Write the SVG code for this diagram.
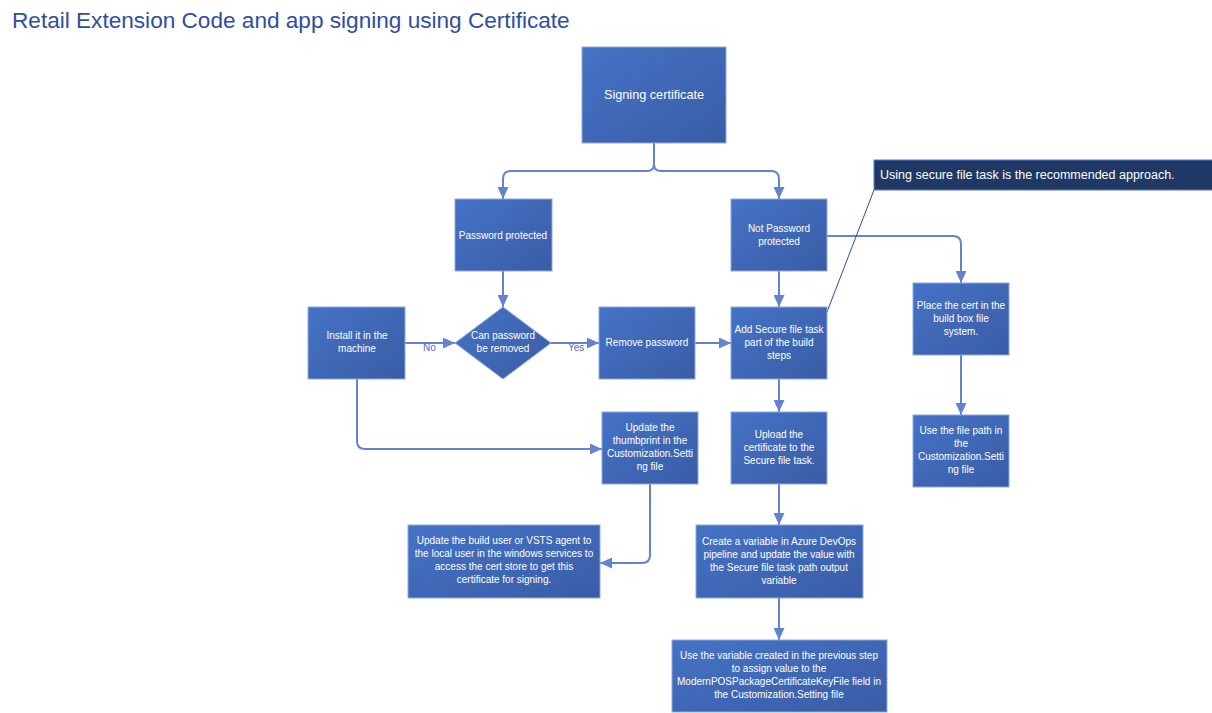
<svg xmlns="http://www.w3.org/2000/svg" width="1212" height="713" viewBox="0 0 1212 713">
<style>
.box{fill:url(#g);stroke:#8eaadb;stroke-width:1}
.t{font-family:"Liberation Sans",Arial,sans-serif;font-size:10px;fill:#ffffff;text-anchor:middle}
.c{fill:none;stroke:#6382d2;stroke-width:2}
.lbl{font-family:"Liberation Sans",Arial,sans-serif;font-size:10px;fill:#4a6fc8}
</style>
<defs>
<linearGradient id="g" x1="0" y1="0" x2="1" y2="1">
<stop offset="0" stop-color="#4573c6"/>
<stop offset="1" stop-color="#3a5ca6"/>
</linearGradient>
<marker id="a" markerUnits="userSpaceOnUse" markerWidth="12" markerHeight="11" refX="12" refY="5.5" orient="auto">
<path d="M0,0 L12,5.5 L0,11 z" fill="#6382d2"/>
</marker>
</defs>
<rect width="1212" height="713" fill="#ffffff"/>
<text x="12" y="28" font-family="'Liberation Sans',Arial,sans-serif" font-size="22.6" fill="#2f4e9e">Retail Extension Code and app signing using Certificate</text>

<g id="connectors">
<path class="c" d="M654 143 V164 Q654 171 647 171 H511 Q503 171 503 179 V199" marker-end="url(#a)"/>
<path class="c" d="M654 164 Q654 171 661 171 H771 Q779 171 779 179 V199" marker-end="url(#a)"/>
<path class="c" d="M503 271 V307" marker-end="url(#a)"/>
<path class="c" d="M405 343 H455" marker-end="url(#a)"/>
<path class="c" d="M551 343 H599" marker-end="url(#a)"/>
<path class="c" d="M695 343 H731" marker-end="url(#a)"/>
<path class="c" d="M779 271 V307" marker-end="url(#a)"/>
<path class="c" d="M827 236 H953 Q961 236 961 244 V283" marker-end="url(#a)"/>
<path class="c" d="M779 379 V412" marker-end="url(#a)"/>
<path class="c" d="M961 355 V415" marker-end="url(#a)"/>
<path class="c" d="M357 379 V441 Q357 449 365 449 H602" marker-end="url(#a)"/>
<path class="c" d="M779 484 V525" marker-end="url(#a)"/>
<path class="c" d="M650 484 V555 Q650 563 642 563 H600" marker-end="url(#a)"/>
<path class="c" d="M779 598 V640" marker-end="url(#a)"/>
<path d="M827 312 L874 190" fill="none" stroke="#2f4e9e" stroke-width="1"/>
<text class="lbl" x="423" y="351">No</text>
<text class="lbl" x="568" y="351">Yes</text>
</g>

<g id="signing">
<rect class="box" x="582" y="47" width="144" height="96"/>
<text class="t" x="654" y="99" style="font-size:12.7px">Signing certificate</text>
</g>
<g id="pwd">
<rect class="box" x="455" y="199" width="97" height="72"/>
<text class="t" x="503" y="239">Password protected</text>
</g>
<g id="notpwd">
<rect class="box" x="731" y="199" width="96" height="72"/>
<text class="t" x="779" y="232">Not Password</text>
<text class="t" x="779" y="245">protected</text>
</g>
<g id="install">
<rect class="box" x="308" y="307" width="97" height="72"/>
<text class="t" x="357" y="339">Install it in the</text>
<text class="t" x="357" y="352">machine</text>
</g>
<g id="decision">
<path d="M503 307 L551 343 L503 379 L455 343 Z" fill="url(#g)" stroke="#8eaadb" stroke-width="1"/>
<text class="t" x="503" y="339">Can password</text>
<text class="t" x="503" y="352">be removed</text>
</g>
<g id="remove">
<rect class="box" x="599" y="307" width="96" height="72"/>
<text class="t" x="647" y="346">Remove password</text>
</g>
<g id="addsecure">
<rect class="box" x="731" y="307" width="96" height="72"/>
<text class="t" x="779" y="333">Add Secure file task</text>
<text class="t" x="779" y="346">part of the build</text>
<text class="t" x="779" y="359">steps</text>
</g>
<g id="placecert">
<rect class="box" x="913" y="283" width="96" height="72"/>
<text class="t" x="961" y="309">Place the cert in the</text>
<text class="t" x="961" y="322">build box file</text>
<text class="t" x="961" y="335">system.</text>
</g>
<g id="filepath">
<rect class="box" x="913" y="415" width="96" height="72"/>
<text class="t" x="961" y="434">Use the file path in</text>
<text class="t" x="961" y="447">the</text>
<text class="t" x="961" y="460">Customization.Setti</text>
<text class="t" x="961" y="473">ng file</text>
</g>
<g id="thumbprint">
<rect class="box" x="602" y="412" width="96" height="72"/>
<text class="t" x="650" y="431">Update the</text>
<text class="t" x="650" y="444">thumbprint in the</text>
<text class="t" x="650" y="457">Customization.Setti</text>
<text class="t" x="650" y="470">ng file</text>
</g>
<g id="upload">
<rect class="box" x="731" y="412" width="96" height="72"/>
<text class="t" x="779" y="438">Upload the</text>
<text class="t" x="779" y="451">certificate to the</text>
<text class="t" x="779" y="464">Secure file task.</text>
</g>
<g id="builduser">
<rect class="box" x="408" y="525" width="192" height="73"/>
<text class="t" x="504" y="544">Update the build user or VSTS agent to</text>
<text class="t" x="504" y="557">the local user in the windows services to</text>
<text class="t" x="504" y="570">access the cert store to get this</text>
<text class="t" x="504" y="583">certificate for signing.</text>
</g>
<g id="variable">
<rect class="box" x="696" y="525" width="167" height="73"/>
<text class="t" x="779" y="545">Create a variable in Azure DevOps</text>
<text class="t" x="779" y="558">pipeline and update the value with</text>
<text class="t" x="779" y="571">the Secure file task path output</text>
<text class="t" x="779" y="584">variable</text>
</g>
<g id="usevariable">
<rect class="box" x="672" y="640" width="215" height="72"/>
<text class="t" x="779" y="659">Use the variable created in the previous step</text>
<text class="t" x="779" y="672">to assign value to the</text>
<text class="t" x="779" y="685">ModernPOSPackageCertificateKeyFile field in</text>
<text class="t" x="779" y="698">the Customization.Setting file</text>
</g>
<g id="callout">
<rect x="874" y="160" width="340" height="30" fill="#1f3864" stroke="#5b7bd5" stroke-width="1"/>
<text x="880" y="179" font-family="'Liberation Sans',Arial,sans-serif" font-size="12.5" fill="#ffffff">Using secure file task is the recommended approach.</text>
</g>
</svg>
